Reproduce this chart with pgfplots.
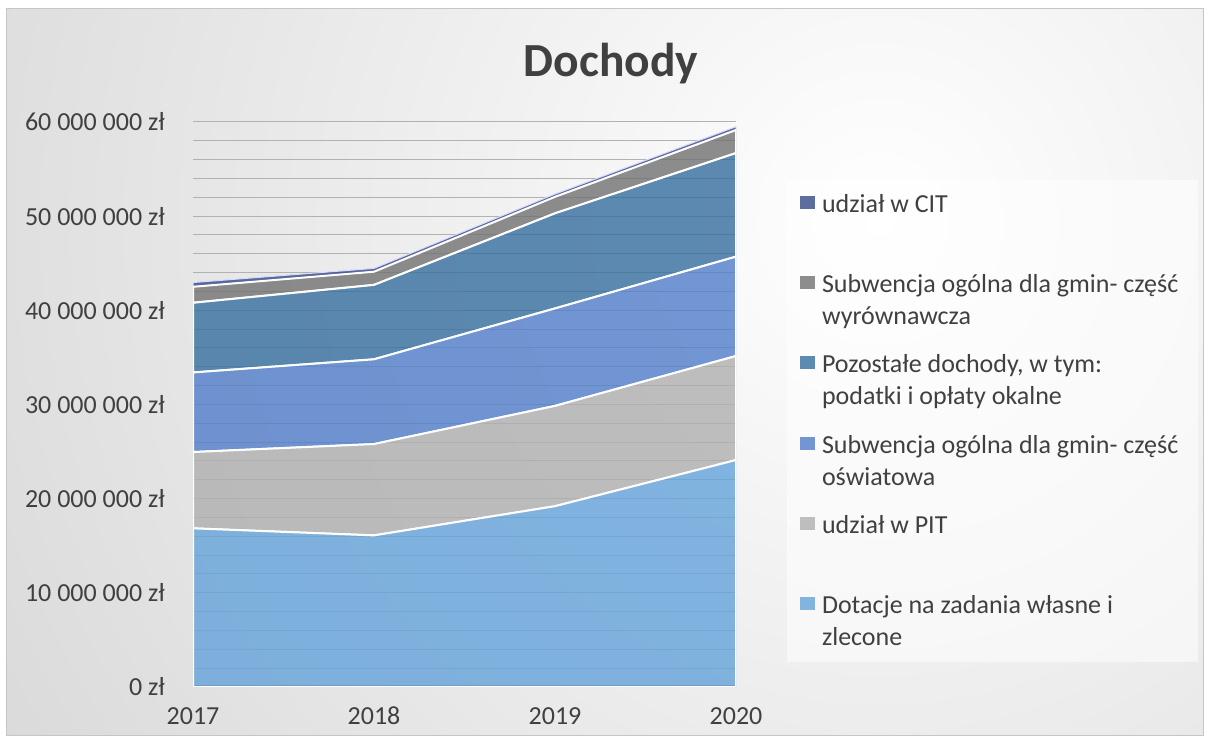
\documentclass[border=0pt]{standalone}
\usepackage{pgfplots}
\pgfplotsset{compat=1.18}
\usepackage{fontspec}
\setmainfont{Carlito}
\definecolor{labelgray}{RGB}{64,64,64}
\definecolor{cDot}{RGB}{101,163,219}
\definecolor{cPit}{RGB}{175,175,175}
\definecolor{cOsw}{RGB}{81,125,202}
\definecolor{cPoz}{RGB}{54,110,158}
\definecolor{cWyr}{RGB}{114,114,114}
\definecolor{cCit}{RGB}{54,73,135}
\newcommand{\lfont}{\fontsize{26bp}{32bp}\selectfont}
\newcommand{\lent}[1]{\strut\smash{\parbox[t]{380bp}{\raggedright\strut #1}}}
\begin{document}
\begin{tikzpicture}
\useasboundingbox (0bp,0bp) rectangle (1206bp,742bp);
\fill[white] (0bp,0bp) rectangle (1206bp,742bp);
\begin{scope}
\clip (6bp,6bp) rectangle (1203bp,733bp);
\shade[inner color=white, outer color=gray!57] (880bp,520bp) circle (2000bp);
\end{scope}
\draw[gray!45, line width=1bp] (6bp,6bp) rectangle (1203bp,733bp);
\fill[white, opacity=0.55] (787bp,80bp) rectangle (1198bp,562bp);
\node[anchor=base, text=labelgray, font=\fontsize{47.5bp}{50bp}\selectfont\bfseries] at (611bp,665bp) {Dochody};
\begin{axis}[
  at={(193bp,55bp)}, anchor=south west,
  scale only axis, width=543bp, height=565bp,
  xmin=2017, xmax=2020, ymin=0, ymax=60,
  enlargelimits=false,
  xtick={2017,2018,2019,2020},
  xticklabels={2017,2018,2019,2020},
  ytick={0,10,20,30,40,50,60},
  yticklabels={0 zł,10 000 000 zł,20 000 000 zł,30 000 000 zł,40 000 000 zł,50 000 000 zł,60 000 000 zł},
  minor ytick={2,4,6,8,12,14,16,18,22,24,26,28,32,34,36,38,42,44,46,48,52,54,56,58},
  ymajorgrids, yminorgrids,
  major grid style={color=gray!60, line width=1bp},
  minor grid style={color=gray!60, line width=1bp},
  axis line style={draw=none},
  major tick length=0pt, minor tick length=0pt,
  tick style={draw=none},
  yticklabel style={font=\lfont, text=labelgray, inner sep=0pt, xshift=-28bp},
  xticklabel style={font=\lfont, text=labelgray, inner sep=0pt, yshift=-20bp},
  stack plots=y,
  legend style={draw=none, fill=none, at={(1.1179,0.8799)}, anchor=north west,
    inner sep=0pt, outer sep=0pt, row sep=56.4bp,
    nodes={inner sep=0pt, text=labelgray, font=\lfont},
    /tikz/every odd column/.append style={column sep=7bp}},
  legend cell align=left,
  reverse legend,
  legend image code/.code={\fill[#1,draw=none] (0bp,-7bp) rectangle (15bp,6bp);},
]
\addplot[fill=cDot, fill opacity=0.8, draw=white, line width=2bp] coordinates {(2017,16.85) (2018,16.1) (2019,19.2) (2020,24.1)} \closedcycle;
\addlegendentry{\lent{Dotacje na zadania własne i\\zlecone}}
\addplot[fill=cPit, fill opacity=0.8, draw=white, line width=2bp] coordinates {(2017,8.1) (2018,9.7) (2019,10.65) (2020,11.05)} \closedcycle;
\addlegendentry{\lent{udział w PIT}}
\addplot[fill=cOsw, fill opacity=0.8, draw=white, line width=2bp] coordinates {(2017,8.45) (2018,9.0) (2019,10.35) (2020,10.55)} \closedcycle;
\addlegendentry{\lent{Subwencja ogólna dla gmin- część\\oświatowa}}
\addplot[fill=cPoz, fill opacity=0.8, draw=white, line width=2bp] coordinates {(2017,7.4) (2018,7.9) (2019,10.1) (2020,11.0)} \closedcycle;
\addlegendentry{\lent{Pozostałe dochody, w tym:\\podatki i opłaty okalne}}
\addplot[fill=cWyr, fill opacity=0.8, draw=white, line width=2bp] coordinates {(2017,1.7) (2018,1.4) (2019,1.75) (2020,2.45)} \closedcycle;
\addlegendentry{\lent{Subwencja ogólna dla gmin- część\\wyrównawcza}}
\addplot[fill=cCit, fill opacity=0.8, draw=white!85!blue, line width=1bp] coordinates {(2017,0.45) (2018,0.35) (2019,0.3) (2020,0.35)} \closedcycle;
\addlegendentry{\lent{udział w CIT}}
\draw[labelgray, line width=4bp] (axis cs:2017,0) -- (axis cs:2020,0);
\end{axis}
\end{tikzpicture}
\end{document}
